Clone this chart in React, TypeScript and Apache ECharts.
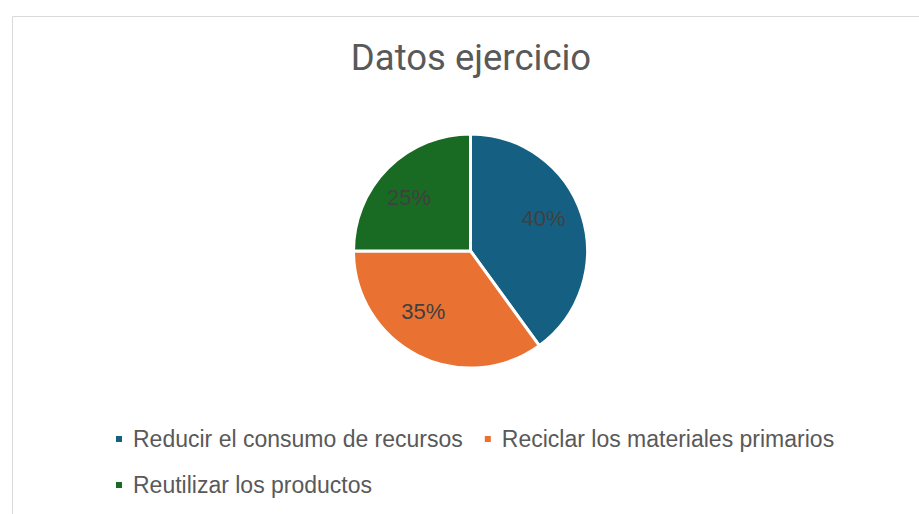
import React, { useEffect, useRef } from "react";
import * as echarts from "echarts";

const title = "Datos ejercicio";
const categories = [
  "Reducir el consumo de recursos",
  "Reciclar los materiales primarios",
  "Reutilizar los productos",
];
const values = [40, 35, 25];
const colors = ["#156082", "#E97132", "#196B24"];
// small nudges of each percentage label from its default inside position
const labelNudges = [
  [-3, -8],
  [-11, -11],
  [-5, 3],
];

export default function App() {
  const ref = useRef<HTMLDivElement>(null);
  useEffect(() => {
    document.body.style.margin = "0";
    const chart = echarts.init(ref.current!, null, { renderer: "svg" });
    const data = categories.map((name, i) => ({
      name,
      value: values[i],
      itemStyle: { color: colors[i] },
    }));
    chart.setOption({
      animation: false,
      backgroundColor: "#ffffff",
      title: {
        text: title,
        left: 466,
        textAlign: "center",
        top: 34,
        textStyle: {
          fontFamily: "Roboto, sans-serif",
          fontSize: 36.5,
          fontWeight: "normal",
          color: "#595959",
        },
      },
      graphic: [
        {
          type: "rect",
          left: 10,
          top: 14,
          shape: { width: 930, height: 520 },
          style: { fill: "none", stroke: "#d9d9d9", lineWidth: 1 },
          silent: true,
        },
      ],
      legend: {
        left: 114,
        top: 426,
        width: 780,
        padding: 0,
        orient: "horizontal",
        icon: "rect",
        itemWidth: 8,
        itemHeight: 8,
        itemGap: 20,
        data: categories.map((name, i) => ({ name, itemStyle: { color: colors[i] } })),
        textStyle: {
          fontFamily: '"Liberation Sans", Arial, sans-serif',
          fontSize: 23,
          color: "#595959",
          padding: [0, 0, 0, 5],
          lineHeight: 26,
        },
      },
      series: [
        {
          type: "pie",
          center: [470.5, 251],
          radius: [0, 117],
          startAngle: 90,
          clockwise: true,
          data,
          itemStyle: { borderColor: "#ffffff", borderWidth: 3 },
          label: { show: false },
          labelLine: { show: false },
          silent: true,
        },
        {
          type: "pie",
          center: [470.5, 251],
          radius: [0, 154],
          startAngle: 90,
          clockwise: true,
          data: categories.map((name, i) => ({ name, value: values[i] })),
          itemStyle: { color: "rgba(0,0,0,0)", borderWidth: 0 },
          label: {
            show: true,
            position: "inside",
            formatter: (p: any) => `${p.value}%`,
            fontFamily: '"Liberation Sans", Arial, sans-serif',
            fontSize: 22,
            color: "#404040",
          },
          labelLayout: (p: any) => ({
            dx: labelNudges[p.dataIndex][0],
            dy: labelNudges[p.dataIndex][1],
          }),
          labelLine: { show: false },
          silent: true,
          legendHoverLink: false,
        },
      ],
    });
    return () => chart.dispose();
  }, []);
  return <div ref={ref} style={{ width: 919, height: 514 }} />;
}
